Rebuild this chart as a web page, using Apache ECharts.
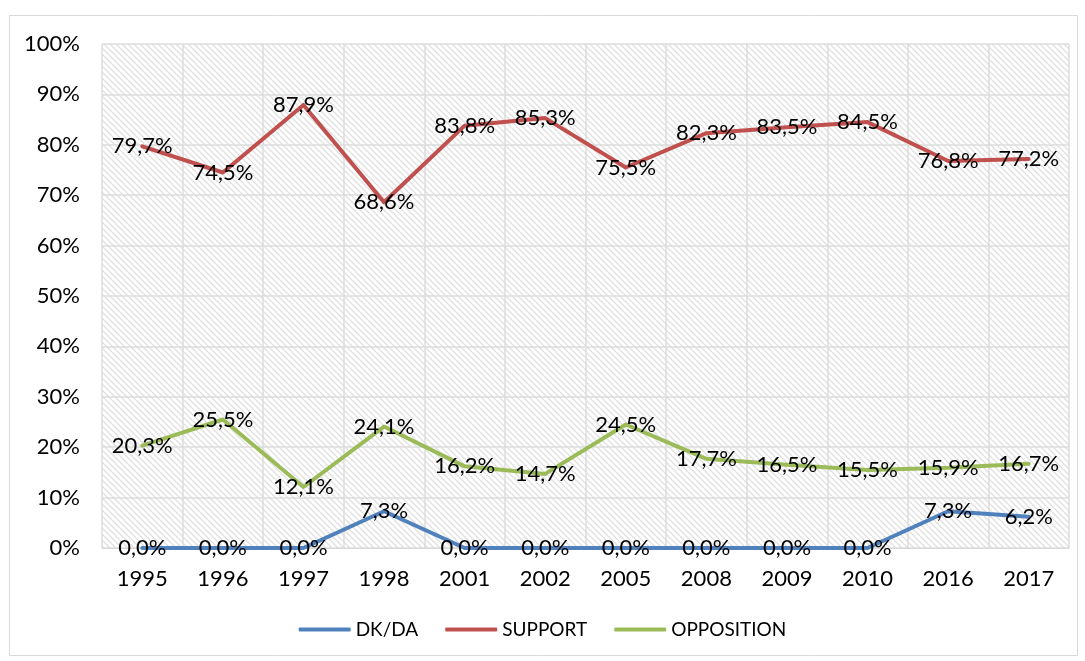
<!DOCTYPE html>
<html><head><meta charset="utf-8">
<script src="https://cdn.jsdelivr.net/npm/echarts@6/dist/echarts.min.js"></script>
<style>html,body{margin:0;padding:0;background:#fff}#c{width:1085px;height:661px}</style>
</head><body><div id="c"></div>
<script>
const years = ['1995','1996','1997','1998','2001','2002','2005','2008','2009','2010','2016','2017'];
const dkda = [0.0,0.0,0.0,7.3,0.0,0.0,0.0,0.0,0.0,0.0,7.3,6.2];
const support = [79.7,74.5,87.9,68.6,83.8,85.3,75.5,82.3,83.5,84.5,76.8,77.2];
const opposition = [20.3,25.5,12.1,24.1,16.2,14.7,24.5,17.7,16.5,15.5,15.9,16.7];
const halfCats = years.flatMap(y => [y + 'a', y + 'b']);

const pc = document.createElement('canvas');
pc.width = 6; pc.height = 6;
const g = pc.getContext('2d');
g.fillStyle = '#ffffff'; g.fillRect(0,0,6,6);
g.strokeStyle = '#e0e0e0'; g.lineWidth = 1.3;
g.beginPath();
g.moveTo(-1,-1); g.lineTo(7,7);
g.moveTo(-4,2); g.lineTo(4,10);
g.moveTo(2,-4); g.lineTo(10,4);
g.stroke();

const font = 'Lato, "Open Sans", sans-serif';
const fmt = p => p.value.toFixed(1).replace('.', ',') + '%';
function ser(name, data, color) {
  return {
    name, type: 'line', data, xAxisIndex: 0,
    symbol: 'circle', symbolSize: 0.01, showSymbol: true,
    lineStyle: {color, width: 4, cap: 'round', join: 'round'},
    itemStyle: {color},
    label: {show: true, position: 'inside', formatter: fmt, color: '#000', fontSize: 22, fontFamily: font},
    labelLayout: {hideOverlap: false},
    emphasis: {disabled: true}, animation: false
  };
}
const chart = echarts.init(document.getElementById('c'));
chart.setOption({
  animation: false,
  graphic: [{type: 'rect', shape: {x: 9.5, y: 15.5, width: 1068, height: 640}, style: {fill: 'none', stroke: '#d9d9d9', lineWidth: 1}, z: -10}],
  grid: {left: 102, right: 16, top: 44, bottom: 113, show: true, backgroundColor: {image: pc, repeat: 'repeat'}, borderWidth: 0},
  legend: {
    bottom: 17, left: 'center', itemWidth: 52, itemHeight: 4, itemGap: 27,
    icon: 'roundRect',
    textStyle: {fontSize: 19, fontFamily: font, color: '#000'},
    data: ['DK/DA','SUPPORT','OPPOSITION']
  },
  xAxis: [
    {type: 'category', data: years, boundaryGap: true,
     axisLine: {show: true, lineStyle: {color: '#d9d9d9', width: 1}},
     axisTick: {show: false},
     axisLabel: {color: '#000', fontSize: 22, fontFamily: font, margin: 20},
     splitLine: {show: false}},
    {type: 'category', data: halfCats, boundaryGap: true, position: 'bottom',
     axisLine: {show: false}, axisTick: {show: false}, axisLabel: {show: false},
     splitLine: {show: true, lineStyle: {color: '#dcdcdc', width: 1.5}}}
  ],
  yAxis: {
    type: 'value', min: 0, max: 100, interval: 10,
    axisLine: {show: false}, axisTick: {show: false},
    axisLabel: {formatter: v => v + '%', color: '#000', fontSize: 22, fontFamily: font, margin: 22},
    splitLine: {show: true, lineStyle: {color: '#dcdcdc', width: 1.5}}
  },
  series: [
    {type: 'line', xAxisIndex: 1, data: [], silent: true},
    ser('DK/DA', dkda, '#4F81BD'),
    ser('SUPPORT', support, '#C0504D'),
    ser('OPPOSITION', opposition, '#9BBB59')
  ]
});
</script></body></html>
